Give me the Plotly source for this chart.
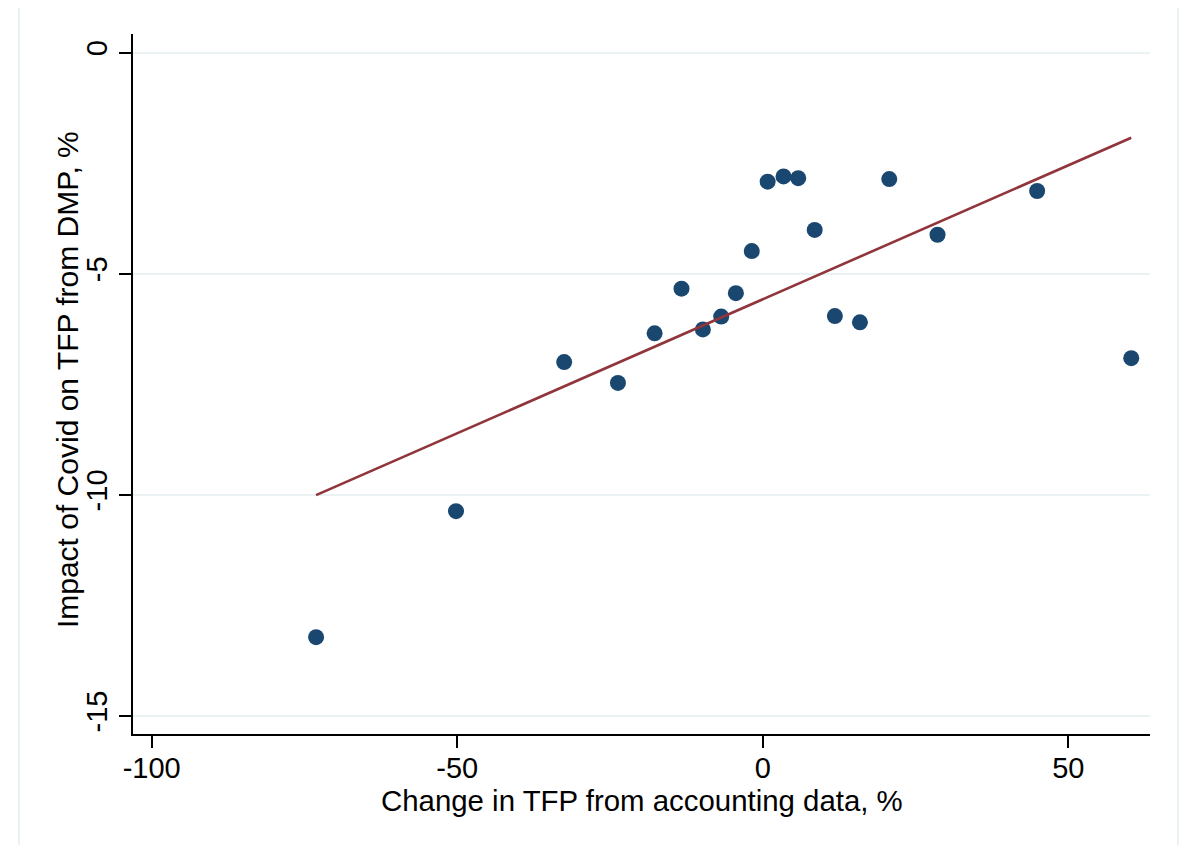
import numpy as np
import plotly.graph_objects as go

# Data
tfp_accounting = [-73.1, -50.2, -32.5, -23.7, -17.7, -13.3, -9.8, -6.8, -4.4, -1.8,
                  0.8, 3.4, 5.8, 8.5, 11.8, 15.9, 20.7, 28.6, 44.9, 60.3]
covid_impact = [-13.22, -10.37, -7.00, -7.47, -6.35, -5.34, -6.26, -5.97, -5.44, -4.49,
                -2.92, -2.80, -2.84, -4.01, -5.96, -6.10, -2.86, -4.12, -3.13, -6.91]

x_ticks = [-100, -50, 0, 50]
y_ticks = [-15, -10, -5, 0]

x_title = "Change in TFP from accounting data, %"
y_title = "Impact of Covid on TFP from DMP, %"

# Linear fit (OLS) drawn over the data range
slope, intercept = np.polyfit(tfp_accounting, covid_impact, 1)
fit_x = np.array([min(tfp_accounting), max(tfp_accounting)])
fit_y = slope * fit_x + intercept

NAVY = "#1A476F"
MAROON = "#90353B"
GRID = "#EAF2F3"
FONT = "Liberation Sans, Arial, sans-serif"

fig = go.Figure()
fig.add_trace(go.Scatter(
    x=tfp_accounting, y=covid_impact, mode="markers",
    marker=dict(color=NAVY, size=16, line=dict(width=0)),
    showlegend=False, hoverinfo="x+y",
))
fig.add_trace(go.Scatter(
    x=fit_x, y=fit_y, mode="lines",
    line=dict(color=MAROON, width=2.6),
    showlegend=False,
))

fig.update_layout(
    width=1188, height=845,
    margin=dict(l=125, r=46, t=26, b=119),
    paper_bgcolor="white", plot_bgcolor="white",
    font=dict(family=FONT, size=29, color="black"),
    xaxis=dict(
        range=[-103.06, 63.37], tickvals=x_ticks, ticktext=[str(v) for v in x_ticks],
        showgrid=False, zeroline=False,
        showline=True, linecolor="black", linewidth=1.5,
        ticks="outside", ticklen=12, tickwidth=1.5, tickcolor="black",
        tickfont=dict(size=29), ticklabelstandoff=-5,
    ),
    yaxis=dict(
        range=[-15.41, 0.42], tickvals=y_ticks, ticktext=[str(v) for v in y_ticks],
        showgrid=True, gridcolor=GRID, gridwidth=2, zeroline=False,
        showline=True, linecolor="black", linewidth=1.5,
        ticks="outside", ticklen=12, tickwidth=1.5, tickcolor="black",
        tickangle=-90, tickfont=dict(size=29), ticklabelstandoff=1,
    ),
    annotations=[
        dict(text=x_title, xref="paper", yref="paper", x=0.5, y=-0.0943,
             xanchor="center", yanchor="middle", showarrow=False,
             font=dict(size=29.4)),
        dict(text=y_title, xref="paper", yref="paper", x=-0.0649, y=0.507,
             xanchor="center", yanchor="middle", showarrow=False, textangle=-90,
             font=dict(size=30)),
    ],
    shapes=[dict(
        type="rect", xref="paper", yref="paper",
        x0=-0.1121, x1=1.0275, y0=-0.17, y1=1.0414,
        line=dict(color=GRID, width=2), fillcolor="rgba(0,0,0,0)", layer="below",
    )],
)

fig.write_html("out.html")
